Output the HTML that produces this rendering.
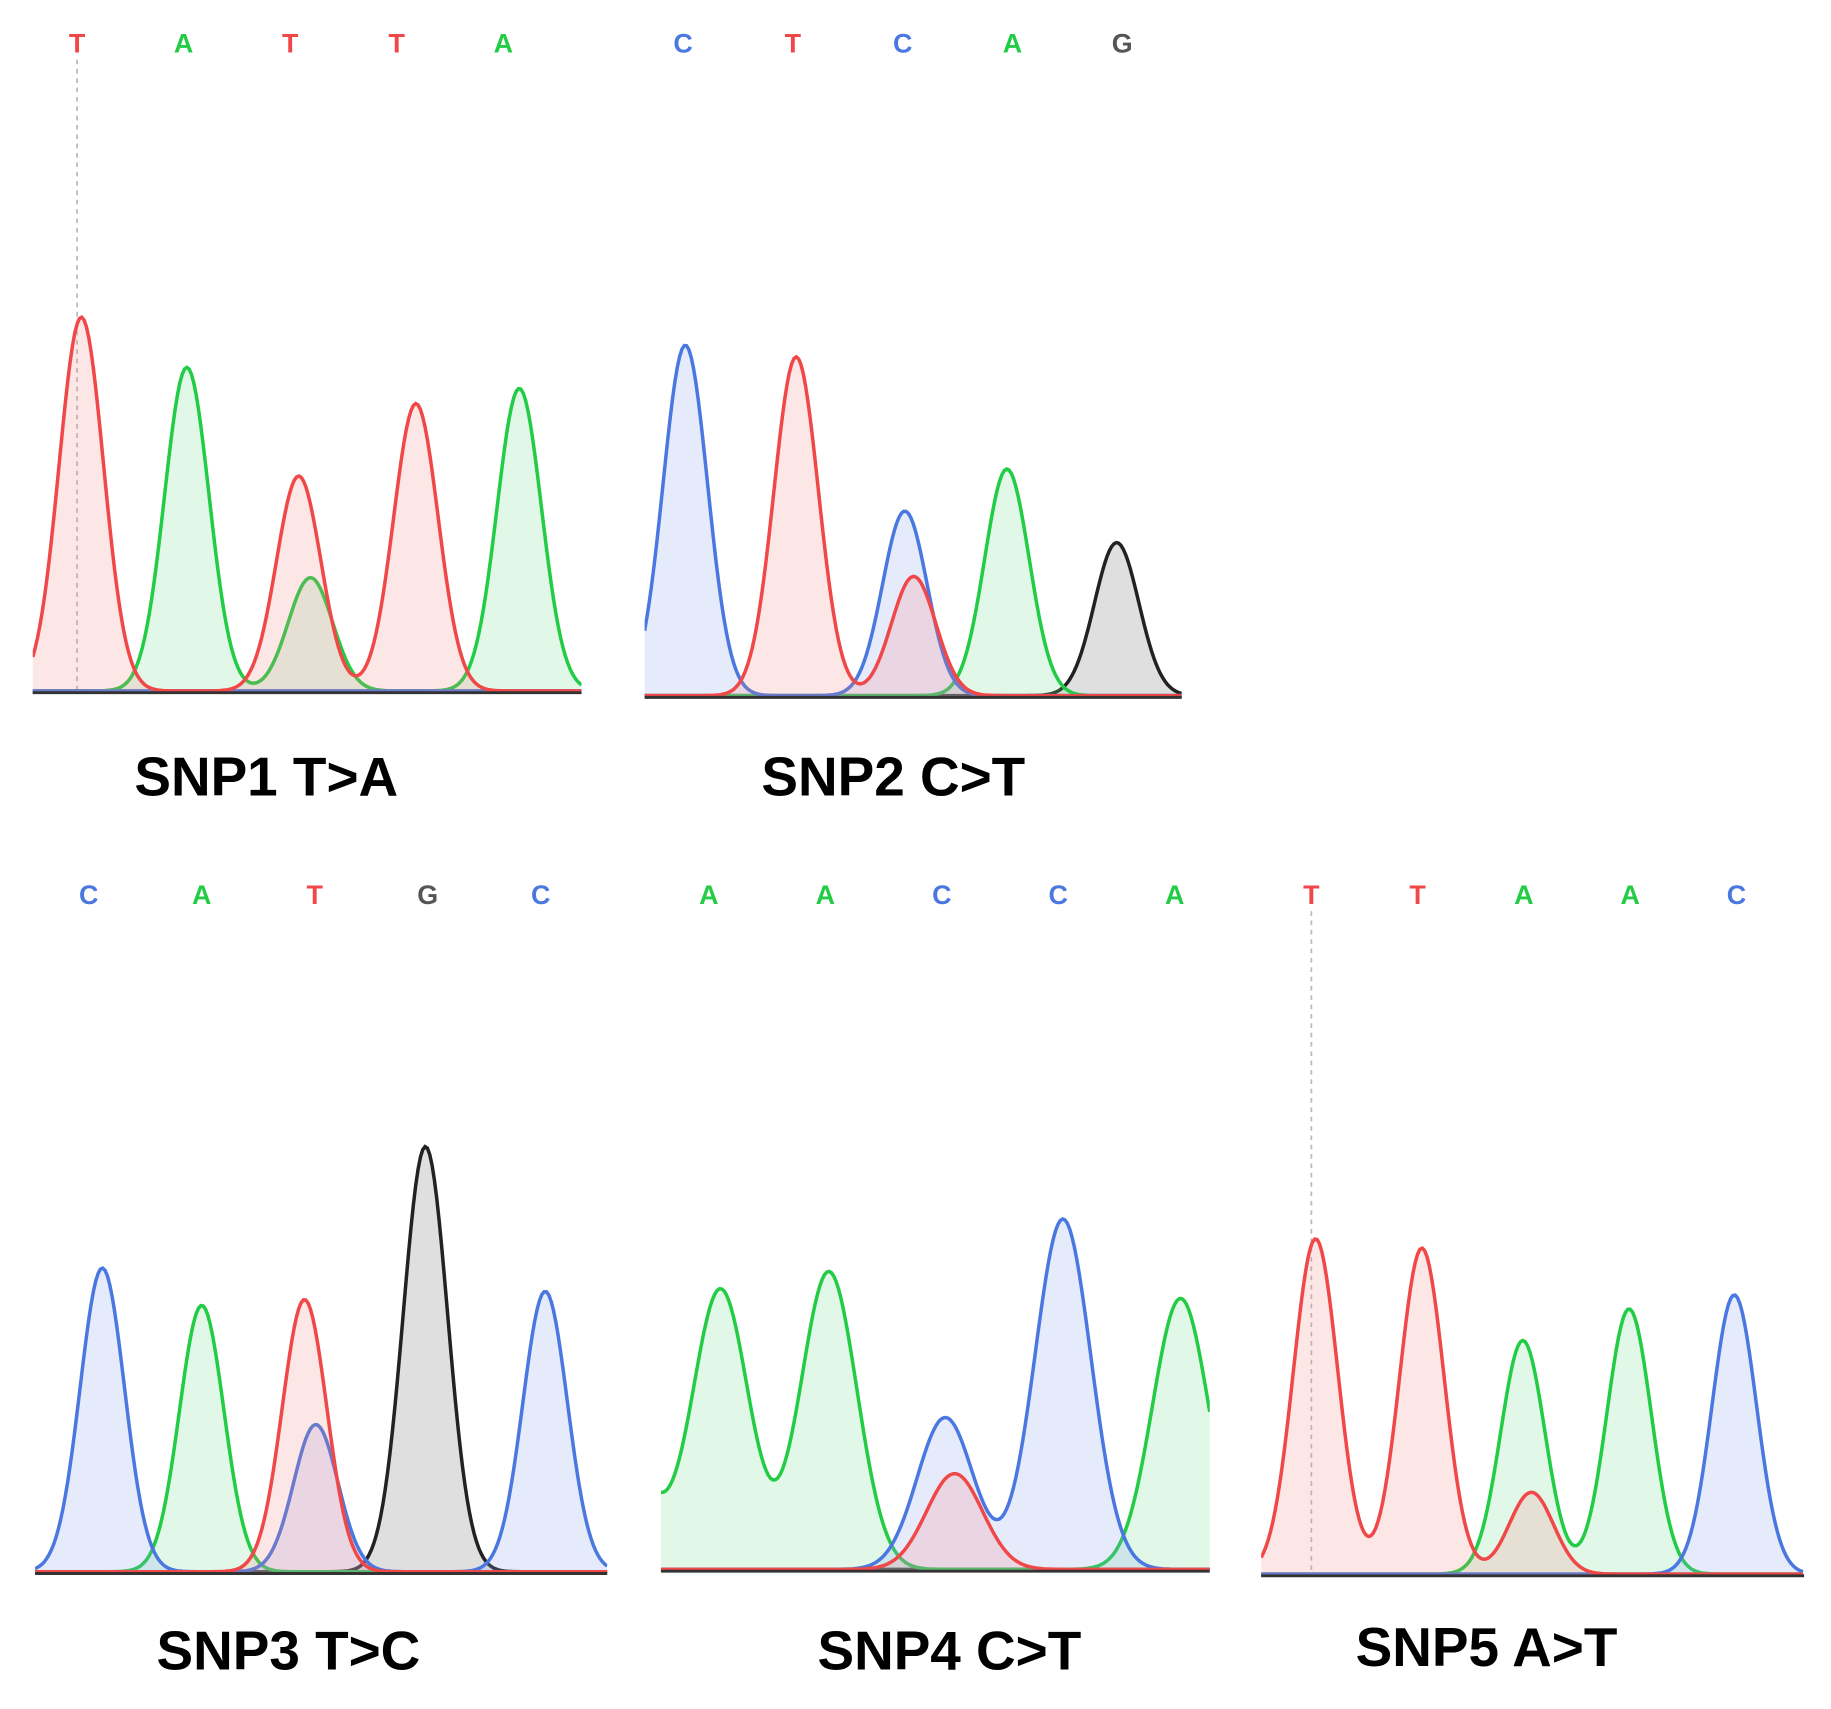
<!DOCTYPE html>
<html><head><meta charset="utf-8"><style>
html,body{margin:0;padding:0;background:#fff;}
svg{display:block;}
.lab{font-family:"Liberation Sans",sans-serif;font-weight:bold;font-size:47px;fill:#000;}
.base{font-family:"Liberation Sans",sans-serif;font-size:23px;font-weight:bold;}
</style></head><body>
<svg id="chart" width="1831" height="1709" viewBox="0 0 1568 1463" preserveAspectRatio="none" xmlns="http://www.w3.org/2000/svg"></svg>
<script>
// Base calls per panel
const seq1 = ["T","A","T","T","A"];
const seq2 = ["C","T","C","A","G"];
const seq3 = ["C","A","T","G","C"];
const seq4 = ["A","A","C","C","A"];
const seq5 = ["T","T","A","A","C"];
const titles = ["SNP1 T>A","SNP2 C>T","SNP3 T>C","SNP4 C>T","SNP5 A>T"];
// Peaks: channel, position (in base index units), signal height
const peaks1Ch = ["T","A","T","A","T","A"];
const peaks1Pos = [0.04,1.03,2.08,2.19,3.18,4.15];
const peaks1Amp = [320,277,184,97,246,259];
const peaks2Ch = ["C","T","C","T","A","G"];
const peaks2Pos = [0.02,1.03,2.02,2.1,2.95,3.95];
const peaks2Amp = [300,290,158,102,194,131];
const peaks3Ch = ["C","A","T","C","G","C"];
const peaks3Pos = [0.12,1.0,1.91,2.01,2.98,4.04];
const peaks3Amp = [260,228,233,126,364,240];
const peaks4Ch = ["A","A","A","C","T","C","A"];
const peaks4Pos = [-0.75,0.1,1.03,2.03,2.11,3.04,4.05];
const peaks4Amp = [110,240,255,130,82,300,232];
const peaks5Ch = ["T","T","A","T","A","C"];
const peaks5Pos = [0.04,1.04,1.99,2.07,2.99,3.98];
const peaks5Amp = [287,279,200,70,227,239];

const panels = [
 {seq:seq1,ch:peaks1Ch,pos:peaks1Pos,amp:peaks1Amp,x0:28,x1:498,base:593,f:66,l:431,ly:36,sig:19,dot:true,tx:228,ty:681},
 {seq:seq2,ch:peaks2Ch,pos:peaks2Pos,amp:peaks2Amp,x0:552,x1:1012,base:597,f:585,l:961,ly:36,sig:19,dot:false,tx:765,ty:681},
 {seq:seq3,ch:peaks3Ch,pos:peaks3Pos,amp:peaks3Amp,x0:30,x1:520,base:1347,f:76,l:463,ly:765,sig:19,dot:false,tx:247,ty:1429},
 {seq:seq4,ch:peaks4Ch,pos:peaks4Pos,amp:peaks4Amp,x0:566,x1:1036,base:1345,f:607,l:1006,ly:765,sig:24,dot:false,tx:813,ty:1429},
 {seq:seq5,ch:peaks5Ch,pos:peaks5Pos,amp:peaks5Amp,x0:1080,x1:1545,base:1349,f:1123,l:1487,ly:765,sig:19,dot:true,tx:1273,ty:1426}
];
const stroke={A:"#22cc44",C:"#4a78e0",G:"#222222",T:"#f04848"};
const fill={A:"rgba(120,225,150,0.22)",C:"rgba(140,165,235,0.22)",G:"rgba(150,150,150,0.3)",T:"rgba(245,130,130,0.2)"};
const NS="http://www.w3.org/2000/svg";
const svg=document.getElementById('chart');
function mk(t,a){const e=document.createElementNS(NS,t);for(const k in a)e.setAttribute(k,a[k]);return e;}
panels.forEach((p,pi)=>{
  const step=(p.l-p.f)/4;
  const xs=i=>p.f+i*step;
  const ys=v=>p.base-v;
  const g=mk('g',{});
  
  
  svg.appendChild(g);
  const cid='clip'+pi;
  const cp=mk('clipPath',{id:cid});cp.appendChild(mk('rect',{x:p.x0,y:0,width:p.x1-p.x0,height:1463}));svg.appendChild(cp);
  p.seq.forEach((b,i)=>{
    const t=mk('text',{x:xs(i),y:p.ly+9,'text-anchor':'middle',class:'base',fill:stroke[b]==="#222222"?"#555":stroke[b]});
    
    
    t.textContent=b;g.appendChild(t);
  });
  if(p.dot){
    const d=mk('line',{x1:xs(0),x2:xs(0),y1:p.ly+15,y2:p.base,stroke:"#bbb","stroke-width":1.5,"stroke-dasharray":"4,4"});
    
    
    g.appendChild(d);
  }
  const order=["G","A","C","T"];
  order.forEach(c=>{
    const idx=p.ch.map((v,i)=>v===c?i:-1).filter(i=>i>=0);
    let pts=[];
    for(let x=p.x0;x<=p.x1;x+=2){
      let v=1.5;
      idx.forEach(i=>{const mu=xs(p.pos[i]);v+=p.amp[i]*Math.exp(-((x-mu)*(x-mu))/(2*p.sig*p.sig));});
      pts.push([x,ys(v)]);
    }
    const line=pts.map((q,i)=>(i?'L':'M')+q[0].toFixed(1)+' '+q[1].toFixed(1)).join(' ');
    const area=mk('path',{d:line+` L${p.x1} ${p.base} L${p.x0} ${p.base} Z`,fill:fill[c],'clip-path':`url(#${cid})`});
    
    
    g.appendChild(area);
    const l=mk('path',{d:line,fill:"none",stroke:stroke[c],"stroke-width":3,'clip-path':`url(#${cid})`});
    
    
    g.appendChild(l);
  });
  const bl=mk('line',{x1:p.x0,x2:p.x1,y1:p.base,y2:p.base,stroke:"#333","stroke-width":2.5});
  
  
  g.appendChild(bl);
  const tt=mk('text',{x:p.tx,y:p.ty,'text-anchor':'middle',class:'lab'});
  
  
  tt.textContent=titles[pi];g.appendChild(tt);
});
</script>
</body></html>
